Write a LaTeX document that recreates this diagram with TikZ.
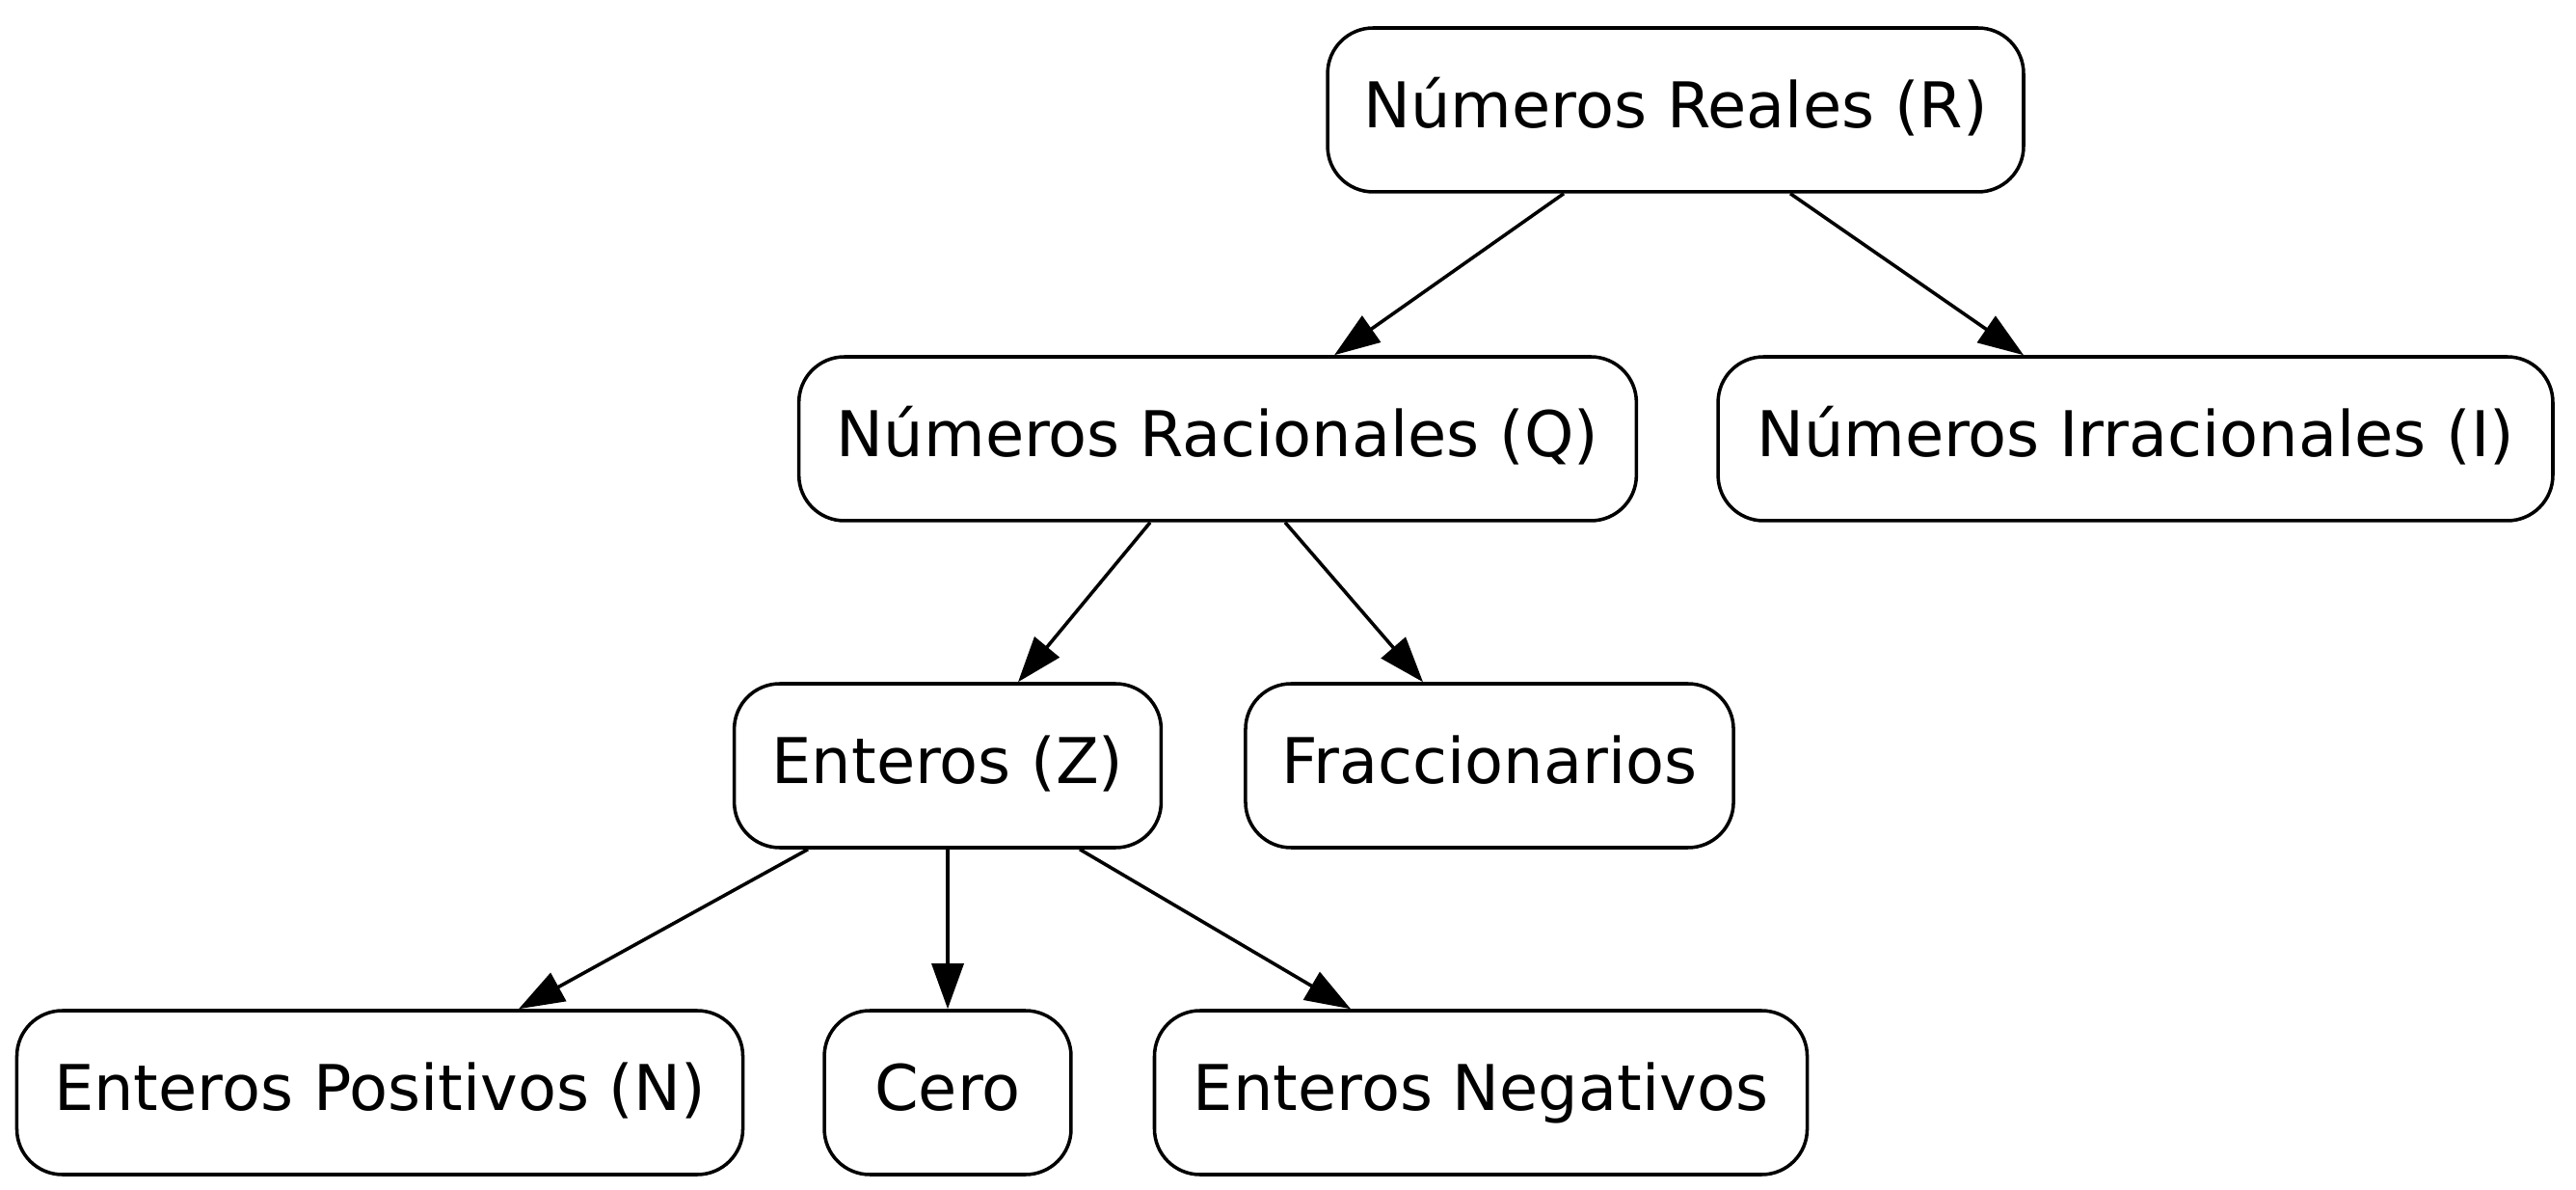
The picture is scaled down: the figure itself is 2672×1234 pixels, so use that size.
\documentclass[tikz,border=0pt]{standalone}
\usepackage{fontspec}
\setmainfont{DejaVu Sans}
\usetikzlibrary{arrows.meta,calc}
\begin{document}
\begin{tikzpicture}[x=0.2118pt,y=-0.2118pt,
  box/.style={draw,line width=0.75pt,rounded corners=10pt,inner sep=0pt,minimum height=36pt,
    text height=10.6pt,text depth=2.9pt,
    font=\fontsize{13.85}{17}\selectfont},
  edge/.style={line width=0.75pt,-{Triangle[length=10pt,width=7pt]}}]
\useasboundingbox (0,0) rectangle (2672,1234);
\node[box,minimum width=152.9pt] (reales) at (1738,114) {Números Reales (R)};
\node[box,minimum width=184pt] (rac) at (1263,455) {Números Racionales (Q)};
\node[box,minimum width=183.4pt] (irr) at (2215,455) {Números Irracionales (I)};
\node[box,minimum width=93.8pt] (ent) at (983,794) {Enteros (Z)};
\node[box,minimum width=107.2pt] (frac) at (1545,794) {Fraccionarios};
\node[box,minimum width=159.5pt] (pos) at (394,1133) {Enteros Positivos (N)};
\node[box,minimum width=54.2pt] (cero) at (983,1133) {Cero};
\node[box,minimum width=143.4pt] (neg) at (1536,1133) {Enteros Negativos};
\draw[edge] ($(reales.south)+(-116,0)$) -- ($(rac.north)+(121,0)$);
\draw[edge] ($(reales.south)+(119,0)$) -- ($(irr.north)+(-116,0)$);
\draw[edge] ($(rac.south)+(-70,0)$) -- ($(ent.north)+(73,0)$);
\draw[edge] ($(rac.south)+(70,0)$) -- ($(frac.north)+(-69,0)$);
\draw[edge] ($(ent.south)+(-145,0)$) -- ($(pos.north)+(144,0)$);
\draw[edge] (ent.south) -- (cero.north);
\draw[edge] ($(ent.south)+(137,0)$) -- ($(neg.north)+(-135,0)$);
\end{tikzpicture}
\end{document}
